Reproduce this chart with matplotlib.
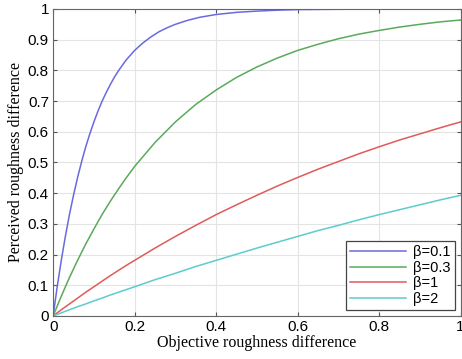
import matplotlib
matplotlib.use("Agg")
import matplotlib.pyplot as plt

# values
x01 = [0, 0.01, 0.02, 0.03, 0.04, 0.05, 0.06, 0.07, 0.08, 0.09, 0.1, 0.11, 0.12, 0.13,
       0.14, 0.15, 0.16, 0.17, 0.18, 0.19, 0.2, 0.22, 0.24, 0.26, 0.28, 0.3, 0.33, 0.36,
       0.4, 0.45, 0.5, 0.55, 0.6, 0.7, 0.8, 0.9, 1.0]
b01 = [0, .095, .181, .259, .330, .393, .451, .503, .551, .593, .632, .667, .699, .727,
       .753, .777, .798, .817, .835, .850, .865, .889, .909, .926, .939, .950, .963, .973,
       .982, .989, .993, .996, .998, .999, 1.0, 1.0, 1.0]
x = [0, 0.02, 0.04, 0.06, 0.08, 0.1, 0.12, 0.14, 0.16, 0.18, 0.2, 0.25, 0.3, 0.35,
     0.4, 0.45, 0.5, 0.55, 0.6, 0.65, 0.7, 0.75, 0.8, 0.85, 0.9, 0.95, 1.0]
b03 = [0, .064, .125, .181, .234, .283, .330, .373, .413, .451, .487, .565, .632, .689,
       .736, .777, .811, .840, .865, .885, .903, .918, .930, .941, .950, .958, .964]
b1 = [0, .020, .039, .058, .077, .095, .113, .131, .148, .165, .181, .221, .259, .295,
      .330, .362, .393, .423, .451, .478, .503, .528, .551, .573, .593, .613, .632]
b2 = [0, .010, .020, .030, .039, .049, .058, .068, .077, .086, .095, .118, .139, .161,
      .181, .201, .221, .240, .259, .278, .295, .313, .330, .346, .362, .378, .393]
labels = ["β=0.1", "β=0.3", "β=1", "β=2"]
colors = ["#6a6ae0", "#5aaa5a", "#e05a5a", "#5ccccc"]

fig = plt.figure(figsize=(4.62, 3.59), dpi=100)
ax = fig.add_axes([0.115, 0.12, 0.882, 0.855])
for xs, ys, lab, c in zip([x01, x, x, x], [b01, b03, b1, b2], labels, colors):
    ax.plot(xs, ys, color=c, lw=1.1, label=lab)

ax.set_xlim(0, 1)
ax.set_ylim(0, 1)
ax.set_xticks([0, 0.2, 0.4, 0.6, 0.8, 1])
ax.set_xticklabels(["0", "0.2", "0.4", "0.6", "0.8", "1"])
ax.set_yticks([0, 0.1, 0.2, 0.3, 0.4, 0.5, 0.6, 0.7, 0.8, 0.9, 1])
ax.set_yticklabels(["0", "0.1", "0.2", "0.3", "0.4", "0.5", "0.6", "0.7", "0.8", "0.9", "1"])
ax.grid(True, color="#e4e4e4", lw=0.8)
ax.tick_params(direction="in", top=True, right=True, labelsize=11, length=3,
               color="#555555", pad=3)
for lbl in ax.get_xticklabels() + ax.get_yticklabels():
    lbl.set_family("Liberation Sans")
for s in ax.spines.values():
    s.set_color("#666666")
ax.set_xlabel("Objective roughness difference", family="Liberation Serif", fontsize=11.5,
              labelpad=1)
ax.set_ylabel("Perceived roughness difference", family="Liberation Serif", fontsize=11.5,
              labelpad=3)
leg = ax.legend(loc="lower right", prop={"family": "Liberation Sans", "size": 10.5},
                handlelength=3.8, fancybox=False, framealpha=1, edgecolor="#444444",
                borderaxespad=0.4, labelspacing=0.1, handletextpad=0.5, borderpad=0.3)
leg.get_frame().set_linewidth(0.9)

plt.savefig("out.png", dpi=100)
plt.close()
